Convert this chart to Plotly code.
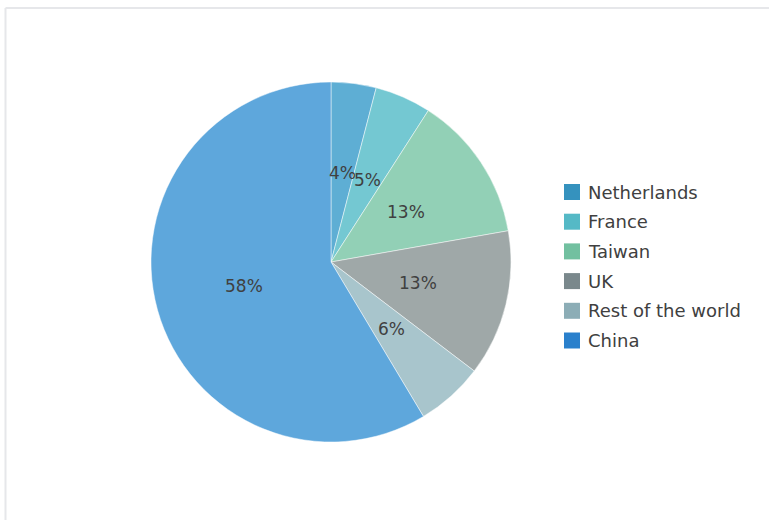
import math
import plotly.graph_objects as go

# Share of imports by country (percent)
countries = ["Netherlands", "France", "Taiwan", "UK", "Rest of the world", "China"]
shares = [4, 5, 13, 13, 6, 58]

slice_colors = ["#5eaed4", "#74c8d2", "#92d0b6", "#9fa8a8", "#a8c5cc", "#5ea7dc"]
legend_colors = ["#3592be", "#55b9c6", "#72c0a0", "#7a888c", "#8cadb6", "#2a80cc"]

W, H = 769, 520
# pie geometry in pixels
cx, cy, R = 331, 262, 180

fig = go.Figure(go.Pie(
    labels=countries,
    values=shares,
    sort=False,
    direction="clockwise",
    rotation=0,
    marker=dict(colors=slice_colors, line=dict(color="rgba(255,255,255,0.6)", width=0.8)),
    textinfo="none",
    hoverinfo="label+value",
    showlegend=False,
    domain=dict(x=[(cx - R) / W, (cx + R) / W], y=[1 - (cy + R) / H, 1 - (cy - R) / H]),
))

annotations = []
total = sum(shares)
cum = 0
for name, v in zip(countries, shares):
    mid = (cum + v / 2) / total * 2 * math.pi
    cum += v
    px = cx + 0.5 * R * math.sin(mid)
    py = cy - 0.5 * R * math.cos(mid)
    annotations.append(dict(
        x=px / W, y=1 - py / H, xref="paper", yref="paper",
        text=f"{v}%", showarrow=False,
        font=dict(family="DejaVu Sans", size=17, color="#404040"),
        xanchor="center", yanchor="middle",
    ))

# legend drawn as swatches plus labels
shapes = []
leg_x, leg_y0, leg_dy, sw = 564, 192, 29.7, 16
for i, (name, col) in enumerate(zip(countries, legend_colors)):
    yc = leg_y0 + i * leg_dy
    shapes.append(dict(
        type="rect", xref="paper", yref="paper",
        x0=leg_x / W, x1=(leg_x + sw) / W,
        y0=1 - (yc + sw / 2) / H, y1=1 - (yc - sw / 2) / H,
        fillcolor=col, line=dict(width=0),
    ))
    annotations.append(dict(
        x=586 / W, y=1 - yc / H, xref="paper", yref="paper",
        text=name, showarrow=False,
        font=dict(family="DejaVu Sans", size=18, color="#404040"),
        xanchor="left", yanchor="middle",
    ))

# chart-area frame (top and left edges)
frame = "#e6e7ea"
shapes.append(dict(type="line", xref="paper", yref="paper",
                   x0=5.5 / W, x1=1, y0=1 - 8 / H, y1=1 - 8 / H,
                   line=dict(color=frame, width=2)))
shapes.append(dict(type="line", xref="paper", yref="paper",
                   x0=5.5 / W, x1=5.5 / W, y0=0, y1=1 - 8 / H,
                   line=dict(color=frame, width=2)))

fig.update_layout(
    width=W, height=H,
    margin=dict(l=0, r=0, t=0, b=0),
    paper_bgcolor="white",
    plot_bgcolor="white",
    annotations=annotations,
    shapes=shapes,
)

fig.write_html("out.html")
